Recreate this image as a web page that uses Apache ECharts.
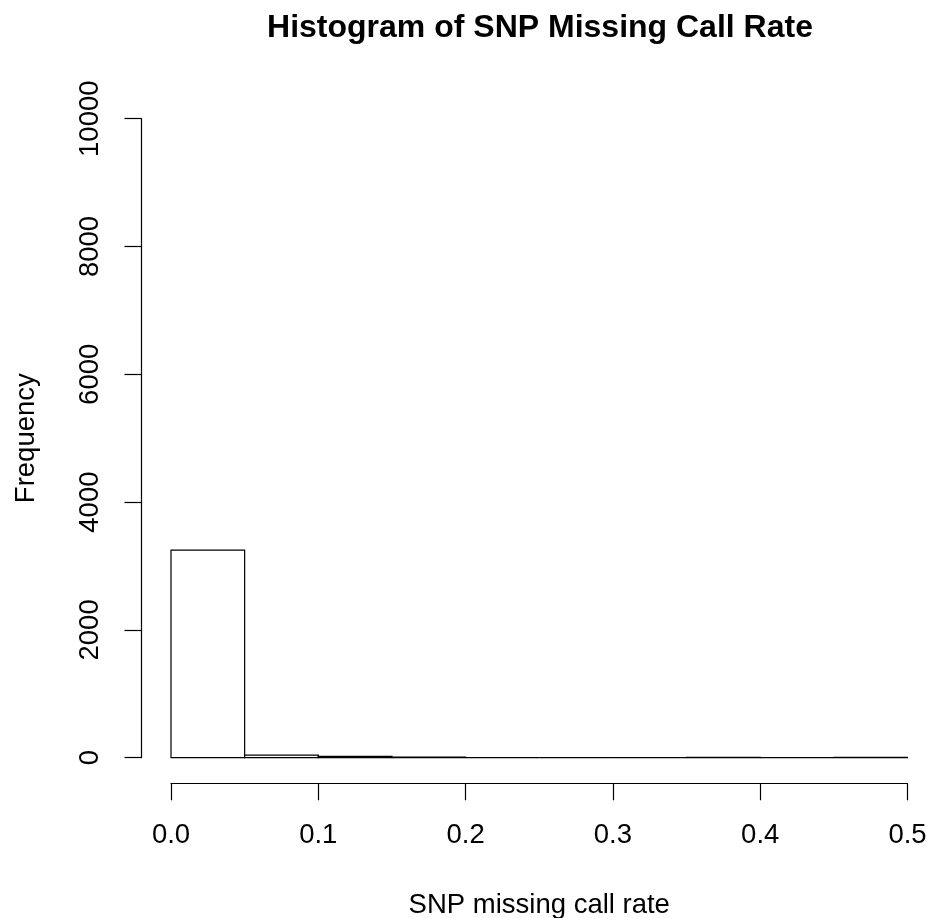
<!DOCTYPE html>
<html>
<head>
<meta charset="utf-8">
<script src="https://cdn.jsdelivr.net/npm/echarts@6/dist/echarts.min.js"></script>
<style>
html,body{margin:0;padding:0;background:#fff;}
#chart{width:927px;height:918px;}
</style>
</head>
<body>
<div id="chart"></div>
<script>
// Histogram bins (SNP missing call rate) and counts
var binStarts = [0.00, 0.05, 0.10, 0.15, 0.20, 0.25, 0.30, 0.35, 0.40, 0.45];
var binEnds   = [0.05, 0.10, 0.15, 0.20, 0.25, 0.30, 0.35, 0.40, 0.45, 0.50];
var counts    = [3250, 40, 20, 8, 0, 0, 0, 6, 0, 6];
var xTicks = [0.0, 0.1, 0.2, 0.3, 0.4, 0.5];
var yTicks = [0, 2000, 4000, 6000, 8000, 10000];

var FONT = 'Liberation Sans, Arial, Helvetica, sans-serif';
var data = binStarts.map(function (s, i) { return [s, binEnds[i], counts[i]]; });

var chart = echarts.init(document.getElementById('chart'), null, {renderer: 'canvas'});
chart.setOption({
  backgroundColor: '#ffffff',
  animation: false,
  title: {
    text: 'Histogram of SNP Missing Call Rate',
    left: 535, top: 7, textAlign: 'center',
    textStyle: {fontFamily: FONT, fontSize: 32, fontWeight: 'bold', color: '#000'}
  },
  grid: {left: 171, right: 19.5, top: 118.7, bottom: 160.3, containLabel: false, outerBoundsMode: 'none'},
  xAxis: {
    type: 'value', min: 0, max: 0.5, interval: 0.1, position: 'bottom', offset: 25.6,
    name: 'SNP missing call rate', nameLocation: 'middle', nameGap: 108,
    nameTextStyle: {fontFamily: FONT, fontSize: 27.5, color: '#000'},
    axisLine: {show: true, onZero: false, lineStyle: {color: '#000', width: 1.2}},
    axisTick: {show: true, inside: false, length: 17, lineStyle: {color: '#000', width: 1.2}},
    axisLabel: {
      show: true, margin: 38, fontFamily: FONT, fontSize: 27.5, color: '#000',
      formatter: function (v) { return v.toFixed(1); },
      customValues: xTicks
    },
    splitLine: {show: false}
  },
  yAxis: {
    type: 'value', min: 0, max: 10000, interval: 2000, position: 'left', offset: 29.5,
    name: 'Frequency', nameLocation: 'middle', nameGap: 101, nameRotate: 90,
    nameTextStyle: {fontFamily: FONT, fontSize: 27.5, color: '#000'},
    axisLine: {show: true, onZero: false, lineStyle: {color: '#000', width: 1.2}},
    axisTick: {show: true, inside: false, length: 17, lineStyle: {color: '#000', width: 1.2}},
    axisLabel: {
      show: true, margin: 37, rotate: 90, fontFamily: FONT, fontSize: 27.5, color: '#000',
      formatter: function (v) { return String(v); },
      customValues: yTicks
    },
    splitLine: {show: false}
  },
  series: [{
    type: 'custom',
    data: data,
    clip: false,
    renderItem: function (params, api) {
      var p0 = api.coord([api.value(0), api.value(2)]);
      var p1 = api.coord([api.value(1), 0]);
      return {
        type: 'rect',
        shape: {x: p0[0], y: p0[1], width: p1[0] - p0[0], height: p1[1] - p0[1]},
        style: {fill: '#ffffff', stroke: '#000000', lineWidth: 1.2}
      };
    }
  }]
});
</script>
</body>
</html>
